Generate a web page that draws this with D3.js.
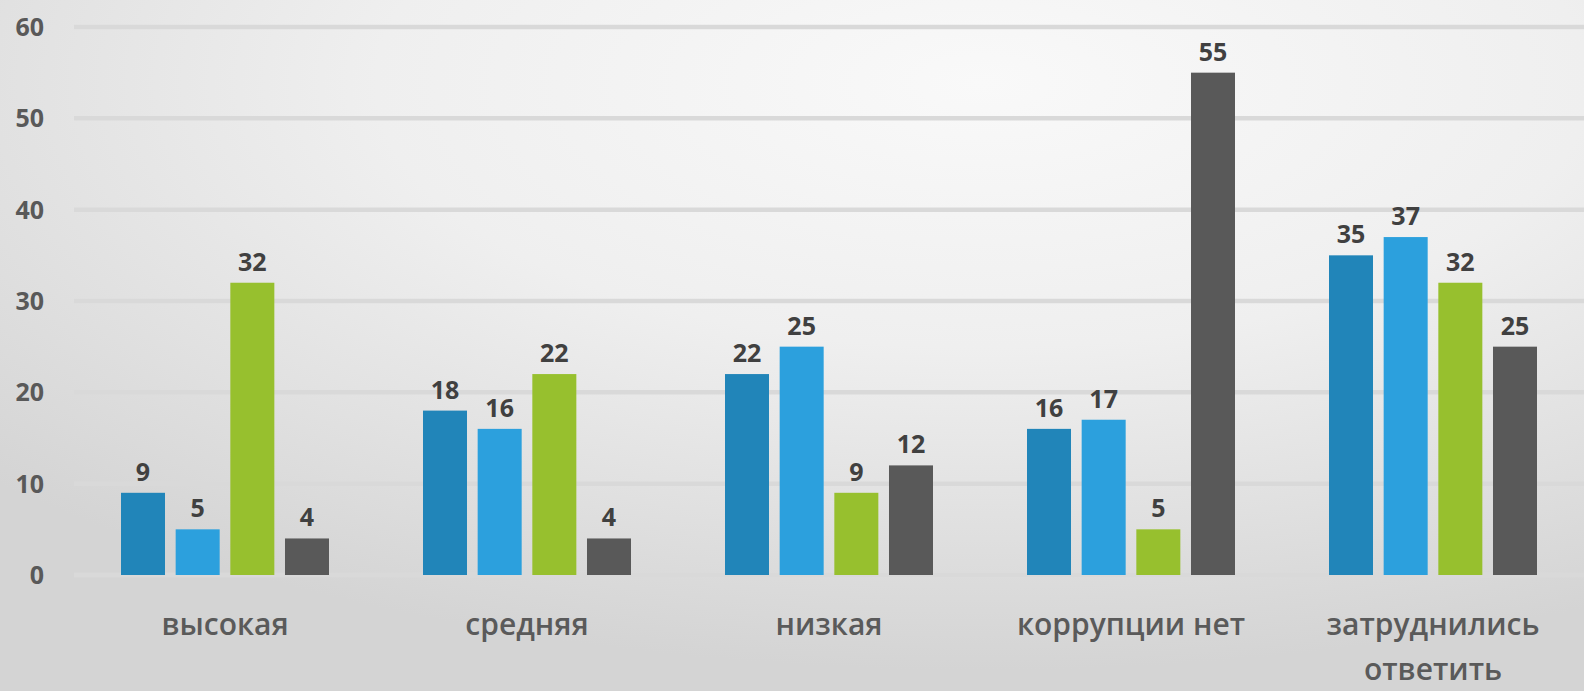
<!DOCTYPE html>
<html><head><meta charset="utf-8">
<script src="https://cdn.jsdelivr.net/npm/d3@7"></script>
<style>
html,body{margin:0;padding:0;overflow:hidden;}
svg{display:block;}
text{font-family:"Open Sans",sans-serif;}
</style></head>
<body>
<svg id="chart" width="1584" height="691"></svg>
<script>
const categories = ["высокая", "средняя", "низкая", "коррупции нет", "затруднились ответить"];
const seriesNames = ["s1", "s2", "s3", "s4"];
const series1 = [9, 18, 22, 16, 35];
const series2 = [5, 16, 25, 17, 37];
const series3 = [32, 22, 9, 5, 32];
const series4 = [4, 4, 12, 55, 25];
const yTicks = [0, 10, 20, 30, 40, 50, 60];
const colors = ["#2185b9", "#2ca0dd", "#97c02e", "#595959"];

const W = 1584, H = 691;
const svg = d3.select("#chart");
const defs = svg.append("defs");
const rg = defs.append("radialGradient").attr("id","bg")
  .attr("cx","62%").attr("cy","12%").attr("r","85%")
  .attr("gradientUnits","objectBoundingBox");
rg.append("stop").attr("offset","0%").attr("stop-color","#f9f9f9");
rg.append("stop").attr("offset","45%").attr("stop-color","#efefef");
rg.append("stop").attr("offset","100%").attr("stop-color","#d4d4d4");
svg.append("rect").attr("width",W).attr("height",H).attr("fill","url(#bg)");

const x0 = d3.scaleBand().domain(categories).range([74, 1584]).paddingInner(0).paddingOuter(0);
const groupW = 208;
const x1 = d3.scaleBand().domain(seriesNames).range([0, groupW]).paddingInner(0.195).paddingOuter(0);
const y = d3.scaleLinear().domain([0, 60]).range([575, 27]);

// gridlines
svg.append("g").selectAll("line").data(yTicks).join("line")
  .attr("x1", 74).attr("x2", 1584)
  .attr("y1", d => y(d)).attr("y2", d => y(d))
  .attr("stroke", "#d9d9d9").attr("stroke-width", 4.5);

// y axis labels
const yAxis = d3.axisLeft(y).tickValues(yTicks).tickSize(0).tickPadding(0);
const ya = svg.append("g").attr("transform","translate(44,0)").call(yAxis);
ya.select(".domain").remove();
ya.selectAll("text").attr("font-size", 25).attr("font-weight", 700)
  .attr("fill", "#595959").attr("font-family", '"Open Sans",sans-serif').attr("dy","0.34em");

const allSeries = [series1, series2, series3, series4];
const data = categories.flatMap((c, i) => allSeries.map((s, j) => ({c, k: seriesNames[j], v: s[i], color: colors[j]})));

const offset = (x0.bandwidth() - groupW) / 2;
svg.append("g").selectAll("rect").data(data).join("rect")
  .attr("x", d => x0(d.c) + offset + x1(d.k))
  .attr("width", x1.bandwidth())
  .attr("y", d => y(d.v))
  .attr("height", d => y(0) - y(d.v))
  .attr("fill", d => d.color);

svg.append("g").selectAll("text").data(data).join("text")
  .attr("x", d => x0(d.c) + offset + x1(d.k) + x1.bandwidth()/2)
  .attr("y", d => y(d.v) - 12)
  .attr("text-anchor","middle")
  .attr("font-size", 25).attr("font-weight", 700).attr("fill", "#404040")
  .text(d => d.v);

// category labels
const xAxis = d3.axisBottom(x0).tickSize(0).tickPadding(0);
const xa = svg.append("g").call(xAxis);
xa.select(".domain").remove();
xa.selectAll(".tick text").remove();
xa.selectAll(".tick").each(function(d){
  const g = d3.select(this);
  const words = d === "затруднились ответить" ? ["затруднились","ответить"] : [d];
  words.forEach((w, i) => {
    g.append("text").attr("x", 0).attr("y", 635 + i*45)
      .attr("text-anchor","middle").attr("font-size", 30).attr("font-weight", 600)
      .attr("fill", "#5a5a5a").attr("font-family", '"Open Sans",sans-serif')
      .text(w);
  });
});
</script>
</body></html>
